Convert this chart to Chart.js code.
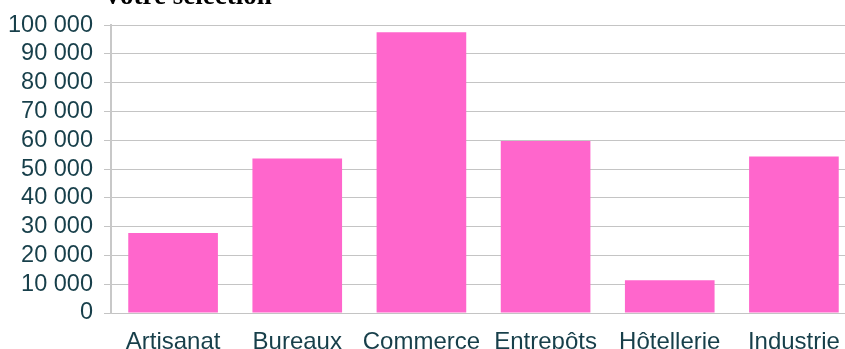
<!DOCTYPE html>
<html>
<head>
<meta charset="utf-8">
<script src="https://cdn.jsdelivr.net/npm/chart.js@4.4.0/dist/chart.umd.min.js"></script>
<style>
  html, body { margin: 0; padding: 0; background: #fff; overflow: hidden; }
  #wrap { position: relative; width: 856px; height: 349px; }
  #title {
    position: absolute; left: 103px; top: -18px;
    font: bold 27px "Liberation Serif", serif; line-height: 27px;
    color: #000; white-space: nowrap; z-index: 2;
  }
</style>
</head>
<body>
<div id="wrap">
  <div id="title">Votre sélection</div>
  <canvas id="chart" width="856" height="349"></canvas>
</div>
<script>
// categories + values
const categories = ["Artisanat", "Bureaux", "Commerce", "Entrepôts", "Hôtellerie", "Industrie"];
const values = [27800, 53700, 97500, 59700, 11400, 54400];
const yTicks = [0, 10000, 20000, 30000, 40000, 50000, 60000, 70000, 80000, 90000, 100000];

const textColor = "#173f4a";
const gridColor = "#c4c4c4";

// 100000 -> "100 000"
const fmt = (v) => String(v).replace(/\B(?=(\d{3})+(?!\d))/g, " ");

const ctx = document.getElementById("chart").getContext("2d");

new Chart(ctx, {
  type: "bar",
  data: {
    labels: categories,
    datasets: [
      {
        data: values,
        backgroundColor: "#ff66cc",
        barPercentage: 0.722,
        categoryPercentage: 1,
      },
    ],
  },
  options: {
    responsive: false,
    animation: false,
    layout: { padding: { top: 25, right: 0, left: 0, bottom: 0 } },
    plugins: { legend: { display: false }, tooltip: { enabled: false } },
    scales: {
      x: {
        grid: { display: false },
        border: { display: true, color: gridColor, width: 1 },
        ticks: {
          color: textColor,
          font: { family: "Liberation Sans", size: 24 },
          padding: 7,
          maxRotation: 0,
          autoSkip: false,
        },
        afterFit: (scale) => { scale.height = 36; },
      },
      y: {
        min: 0,
        max: 100000,
        afterBuildTicks: (scale) => {
          scale.ticks = yTicks.map((v) => ({ value: v }));
        },
        grid: { color: gridColor, tickLength: 7, lineWidth: 1 },
        border: { display: true, color: "#c8c8c8", width: 2 },
        ticks: {
          color: textColor,
          font: { family: "Liberation Sans", size: 23.5 },
          padding: 11,
          autoSkip: false,
          callback: (v) => fmt(v),
        },
        afterFit: (scale) => { scale.width = 111; },
      },
    },
  },
});
</script>
</body>
</html>
